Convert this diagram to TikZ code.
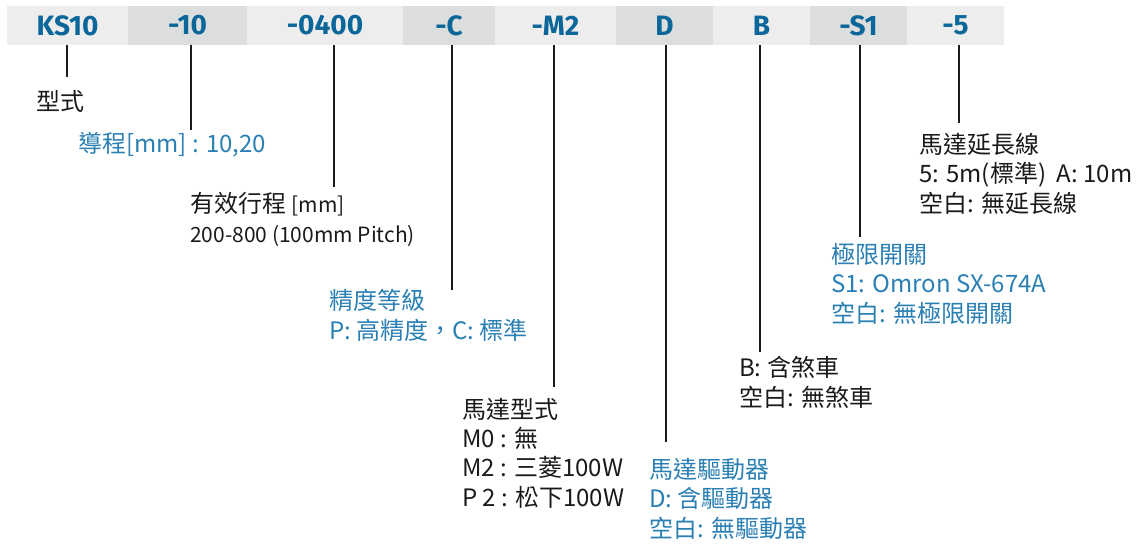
\documentclass[tikz,border=0pt]{standalone}
\usepackage{fontspec}
\setmainfont{Noto Sans CJK TC}
\newfontfamily\hdrfont{Fira Sans}
\definecolor{hdrblue}{HTML}{0B6699}
\definecolor{txtblue}{HTML}{2A7FB3}
\definecolor{cellL}{HTML}{EDEDED}
\definecolor{cellD}{HTML}{DCDEDD}
\definecolor{ink}{HTML}{1A1A1A}
\tikzset{
  hcell/.style={minimum height=39pt, inner sep=0pt, text=hdrblue,
    font=\hdrfont\bfseries\fontsize{28}{28}\selectfont},
  lt/.style={hcell, fill=cellL},
  dk/.style={hcell, fill=cellD},
  desc/.style={anchor=base west, inner sep=0pt, align=left, text=ink,
    font=\fontsize{24}{29.3}\selectfont},
  bdesc/.style={desc, text=txtblue},
  lead/.style={draw=ink, line width=1.3pt}
}
\begin{document}
\begin{tikzpicture}[x=1pt,y=-1pt]
\useasboundingbox (0,0) rectangle (1137,547);
% header cells
\node[lt, minimum width=121pt] (h1) at (67.5,25.5) {KS10};
\node[dk, minimum width=119pt] (h2) at (187.5,25.5) {-10};
\node[lt, minimum width=156pt] (h3) at (325,25.5) {-0400};
\node[dk, minimum width=92pt]  (h4) at (449,25.5) {-C};
\node[lt, minimum width=121pt] (h5) at (555.5,25.5) {-M2};
\node[dk, minimum width=97pt]  (h6) at (664.5,25.5) {D};
\node[lt, minimum width=97pt]  (h7) at (761.5,25.5) {B};
\node[dk, minimum width=97pt]  (h8) at (858.5,25.5) {-S1};
\node[lt, minimum width=97pt]  (h9) at (955.5,25.5) {-5};
% descriptions (anchor = baseline of the last line)
\node[desc]  (t1) at (36,110) {型式};
\node[bdesc] (t2) at (78,152) {導程[mm] : 10,20};
\node[desc]  (t3) at (190,242) {有效行程 {\fontsize{21}{29.3}\selectfont[mm]}\\[0.7pt]{\fontsize{21}{29.3}\selectfont 200-800 (100mm Pitch)}};
\node[bdesc] (t4) at (329,339) {精度等級\\P: 高精度，C: 標準};
\node[desc]  (t5) at (462,506) {馬達型式\\M0 : 無\\M2 : 三菱100W\\P 2 : 松下100W};
\node[bdesc] (t6) at (649,537) {馬達驅動器\\D: 含驅動器\\空白: 無驅動器};
\node[desc]  (t7) at (739,406) {B: 含煞車\\空白: 無煞車};
\node[bdesc] (t8) at (831,322) {極限開關\\S1: Omron SX-674A\\空白: 無極限開關};
\node[desc]  (t9) at (919,212) {馬達延長線\\5: 5m(標準)\ \ A: 10m\\空白: 無延長線};
% leader ends
\coordinate (e1) at (67,77);
\coordinate (e2) at (191,130);
\coordinate (e3) at (334,187);
\coordinate (e4) at (452,290);
\coordinate (e5) at (554,387);
\coordinate (e6) at (666,442);
\coordinate (e7) at (760,352);
\coordinate (e8) at (860,237);
\coordinate (e9) at (959,123);
\draw[lead] (h1.south -| e1) -- (e1);
\draw[lead] (h2.south -| e2) -- (e2);
\draw[lead] (h3.south -| e3) -- (e3);
\draw[lead] (h4.south -| e4) -- (e4);
\draw[lead] (h5.south -| e5) -- (e5);
\draw[lead] (h6.south -| e6) -- (e6);
\draw[lead] (h7.south -| e7) -- (e7);
\draw[lead] (h8.south -| e8) -- (e8);
\draw[lead] (h9.south -| e9) -- (e9);
\end{tikzpicture}
\end{document}
